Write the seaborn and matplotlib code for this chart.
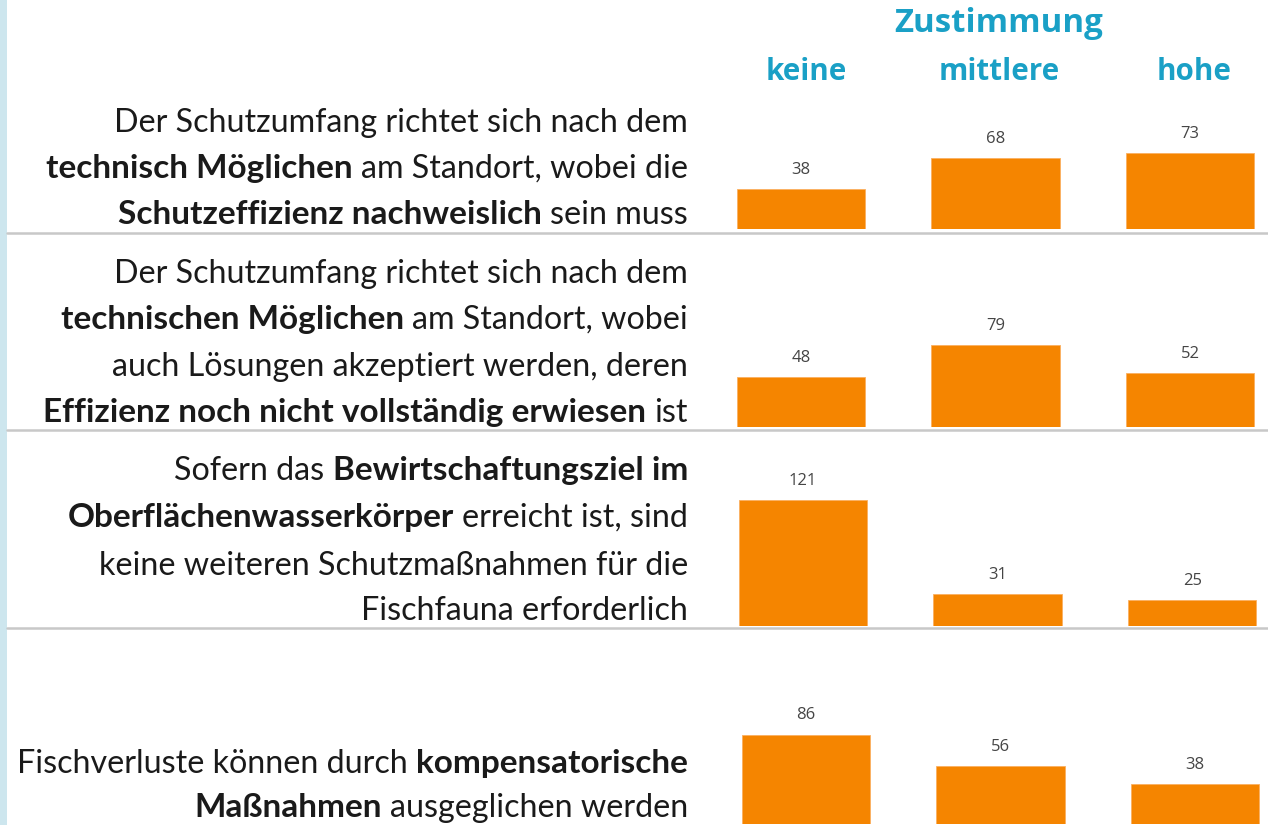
import matplotlib
matplotlib.use("Agg")
import matplotlib.pyplot as plt
import seaborn as sns
from matplotlib.lines import Line2D
from matplotlib.patches import Rectangle

# data
categories = ["keine", "mittlere", "hohe"]
keine_vals = [38, 48, 121, 86]
mittlere_vals = [68, 79, 31, 56]
hohe_vals = [73, 52, 25, 38]

header = "Zustimmung"

# statements, one list of (text, bold) segments per line
statements = [
    [
        [("Der Schutzumfang richtet sich nach dem", False)],
        [("technisch Möglichen", True), ("am Standort, wobei die", False)],
        [("Schutzeffizienz nachweislich", True), ("sein muss", False)],
    ],
    [
        [("Der Schutzumfang richtet sich nach dem", False)],
        [("technischen Möglichen", True), ("am Standort, wobei", False)],
        [("auch Lösungen akzeptiert werden, deren", False)],
        [("Effizienz noch nicht vollständig erwiesen", True), ("ist", False)],
    ],
    [
        [("Sofern das", False), ("Bewirtschaftungsziel im", True)],
        [("Oberflächenwasserkörper", True), ("erreicht ist, sind", False)],
        [("keine weiteren Schutzmaßnahmen für die", False)],
        [("Fischfauna erforderlich", False)],
    ],
    [
        [("Fischverluste können durch", False), ("kompensatorische", True)],
        [("Maßnahmen", True), ("ausgeglichen werden", False)],
    ],
]

# layout (pixels)
W, H = 1268, 825
ORANGE = "#f58500"
TEAL = "#1aa0c6"
TXT = "#1a1a1a"
GRID = "#c8c8c8"
FS = 23.2
FS_BOLD = 24.0

baselines = [229, 427, 626, 824]
row_shift = [0, 0, 2, 5]
line_y = [[120, 166, 212], [271, 317, 364, 410], [468, 515, 563, 608], [761, 805]]
sep_y = [233, 430, 628]
px_per_unit = 1.04

sns.set_theme(style="white")
plt.rcParams["font.family"] = ["Lato", "DejaVu Sans"]

fig = plt.figure(figsize=(W / 100, H / 100), dpi=100)
fig.patch.set_facecolor("white")
renderer = fig.canvas.get_renderer()

# left light blue strip
fig.add_artist(Rectangle((0, 0), 7 / W, 1, transform=fig.transFigure,
                         facecolor="#cde6ee", edgecolor="none"))

# separators
for y in sep_y:
    fig.add_artist(Line2D([7 / W, 1], [1 - y / H, 1 - y / H], transform=fig.transFigure,
                          color=GRID, lw=1.8))

# bar rows
ax_h = 175
for i in range(4):
    left = 700 + row_shift[i]
    ax = fig.add_axes([left / W, 1 - baselines[i] / H, 568 / W, ax_h / H])
    vals = [keine_vals[i], mittlere_vals[i], hohe_vals[i]]
    sns.barplot(x=categories, y=vals, color=ORANGE, width=0.66, ax=ax,
                saturation=1, edgecolor="#fbb060", linewidth=0.6)
    ax.bar_label(ax.containers[0], labels=[str(v) for v in vals], padding=8,
                 fontsize=12, color="#454545", family=["Open Sans", "DejaVu Sans"])
    ax.set_xlim(-0.52, 2.40)
    ax.set_ylim(0, ax_h / px_per_unit)
    ax.axis("off")

# header
hfont = ["Open Sans", "DejaVu Sans"]
fig.text(999 / W, 1 - 23 / H, header, ha="center", va="center", fontsize=23.8,
         fontweight="bold", color=TEAL, family=hfont)
cat_x = [806, 999, 1194]
for cx, c in zip(cat_x, categories):
    fig.text(cx / W, 1 - 72 / H, c, ha="center", va="center", fontsize=21.3,
             fontweight="bold", color=TEAL, family=hfont)

# space width
t1 = fig.text(0, 0, "x x", fontsize=FS)
t2 = fig.text(0, 0, "xx", fontsize=FS)
space_px = t1.get_window_extent(renderer).width - t2.get_window_extent(renderer).width
t1.remove()
t2.remove()

# statements, right aligned with mixed bold
for lines, ys in zip(statements, line_y):
    for parts, y in zip(lines, ys):
        x = 688
        for txt, bold in reversed(parts):
            t = fig.text(x / W, 1 - y / H, txt, ha="right", va="center_baseline",
                         fontsize=FS_BOLD if bold else FS,
                         fontweight="bold" if bold else "normal", color=TXT)
            bb = t.get_window_extent(renderer)
            x = bb.x0 - space_px

fig.savefig("out.png", dpi=100)
